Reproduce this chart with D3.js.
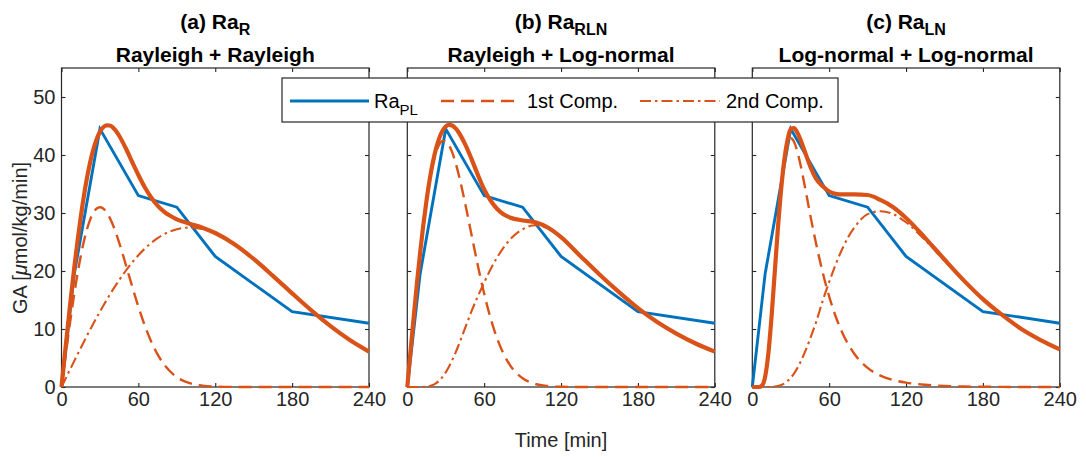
<!DOCTYPE html>
<html><head><meta charset="utf-8">
<script src="https://cdn.jsdelivr.net/npm/d3@7"></script>
<style>
body{margin:0;background:#fff}
svg{display:block}
text{font-family:"Liberation Sans",Arial,Helvetica,sans-serif}
</style>
</head><body>
<svg id="c" width="1086" height="457"></svg>
<script>
// ---- data ----
const T = [0,2.5,5,7.5,10,12.5,15,17.5,20,22.5,25,27.5,30,32.5,35,37.5,40,45,50,55,60,65,70,75,80,90,100,110,120,135,150,165,180,195,210,225,240];

const raPL_t = [0,10,30,60,90,120,180,240];
const raPL_v = [0,19.5,44.5,33,31,22.5,13,11];

const a_c1 = [0,4.25,8.40,12.39,16.12,19.53,22.55,25.15,27.28,28.94,30.10,30.78,31.00,30.79,30.19,29.25,28.02,24.89,21.24,17.45,13.84,10.59,7.84,5.62,3.89,1.70,0.66,0.23,0.07,0.01,0,0,0,0,0,0,0];
const a_c2 = [0,1.13,2.26,3.39,4.51,5.62,6.72,7.81,8.89,9.94,10.98,12.00,13.00,13.97,14.92,15.84,16.74,18.43,20.00,21.43,22.72,23.85,24.84,25.66,26.33,27.21,27.49,27.23,26.48,24.60,22.07,19.17,16.15,13.21,10.50,8.11,6.11];
const a_tot = [0,5.38,10.66,15.78,20.63,25.15,29.27,32.96,36.17,38.88,41.08,42.78,44.00,44.76,45.11,45.09,44.76,43.32,41.24,38.88,36.56,34.44,32.68,31.28,30.22,28.91,28.15,27.46,26.55,24.61,22.07,19.17,16.15,13.21,10.50,8.11,6.11];

const b_c1 = [0,6.13,12.10,17.81,23.12,27.91,32.11,35.63,38.45,40.51,41.84,42.44,42.38,41.71,40.49,38.80,36.73,31.81,26.38,21.01,16.08,11.86,8.43,5.78,3.83,1.51,0.52,0.16,0.04,0,0,0,0,0,0,0,0];
const b_c2 = [0,0,0,0,0,0.02,0.06,0.16,0.35,0.66,1.11,1.73,2.52,3.48,4.59,5.84,7.20,10.1,13.0,15.6,18.0,20.3,22.3,24.0,25.4,27.2,27.9,27.3,25.8,22.6,19.4,16.4,13.6,11.2,9.2,7.5,6.1];
const b_tot = [0,6.13,12.10,17.81,23.12,27.93,32.17,35.79,38.80,41.17,42.95,44.17,44.90,45.19,45.08,44.64,43.93,41.91,39.38,36.61,34.08,32.16,30.73,29.78,29.23,28.71,28.42,27.46,25.84,22.6,19.4,16.4,13.6,11.2,9.2,7.5,6.1];

const c_c1 = [0,0,0,0.24,1.76,5.71,12.04,19.66,27.24,33.73,38.56,41.57,42.9,42.33,40.71,38.44,35.75,29.92,24.5,19.7,15.6,12.2,9.5,7.3,5.6,3.3,1.95,1.2,0.75,0.38,0.18,0.09,0.05,0.02,0,0,0];
const c_c2 = [0,0,0,0,0,0,0.02,0.06,0.16,0.33,0.61,1.02,1.59,2.31,3.21,4.26,5.47,8.24,11.33,14.9,18.1,21.1,23.7,25.9,27.6,29.8,30.3,29.8,28.4,25.3,21.8,18.3,15.1,12.4,10.0,8.1,6.5];
const c_tot = [0,0,0,0.24,1.76,5.71,12.06,19.72,27.40,34.06,39.17,42.59,44.49,44.64,43.92,42.70,41.22,38.16,35.83,34.6,33.7,33.3,33.2,33.2,33.2,33.1,32.25,31.0,29.15,25.68,21.98,18.39,15.15,12.42,10.0,8.1,6.5];

const xTicks = [0,60,120,180,240];
const yTicks = [0,10,20,30,40,50];
const titles = ["(a) Ra","(b) Ra","(c) Ra"];
const titleSubs = ["R","RLN","LN"];
const subtitles = ["Rayleigh + Rayleigh","Rayleigh + Log-normal","Log-normal + Log-normal"];
const legendLabels = ["Ra","1st Comp.","2nd Comp."];
const legendSub = "PL";

// ---- drawing ----
const BLUE="#0072BD", ORANGE="#D95319", AX="#262626";
const svg = d3.select("#c");
const lefts=[61.5,407.3,752.3], W=307.5, TOP=68, BOT=387;
const y = d3.scaleLinear().domain([0,55]).range([BOT,TOP]);
const series = [[a_c1,a_c2,a_tot],[b_c1,b_c2,b_tot],[c_c1,c_c2,c_tot]];

function styleAxis(g, labels){
  g.select(".domain").remove();
  g.selectAll(".tick line").attr("stroke",AX).attr("stroke-width",1.1);
  g.selectAll(".tick text").attr("fill",AX).attr("font-size",20)
    .attr("font-family","'Liberation Sans',Arial,sans-serif");
  if(!labels) g.selectAll(".tick text").remove();
}

lefts.forEach((L,i)=>{
  const x = d3.scaleLinear().domain([0,240]).range([L,L+W]);
  const g = svg.append("g");
  g.append("rect").attr("x",L).attr("y",TOP).attr("width",W).attr("height",BOT-TOP)
    .attr("fill","#fff").attr("stroke",AX).attr("stroke-width",1.2);
  g.append("g").attr("transform",`translate(0,${BOT})`)
    .call(d3.axisBottom(x).tickValues(xTicks).tickSizeInner(-4).tickSizeOuter(0).tickPadding(5))
    .call(s=>styleAxis(s,true));
  g.append("g").attr("transform",`translate(0,${TOP})`)
    .call(d3.axisTop(x).tickValues(xTicks).tickSizeInner(-4).tickSizeOuter(0))
    .call(s=>styleAxis(s,false));
  g.append("g").attr("transform",`translate(${L},0)`)
    .call(d3.axisLeft(y).tickValues(yTicks).tickSizeInner(-4).tickSizeOuter(0).tickPadding(6))
    .call(s=>styleAxis(s,i===0));
  g.append("g").attr("transform",`translate(${L+W},0)`)
    .call(d3.axisRight(y).tickValues(yTicks).tickSizeInner(-4).tickSizeOuter(0))
    .call(s=>styleAxis(s,false));

  const lineT = d3.line().x((d,k)=>x(T[k])).y(d=>y(d)).curve(d3.curveMonotoneX);
  const linePL = d3.line().x((d,k)=>x(raPL_t[k])).y(d=>y(d));
  g.append("path").attr("d",linePL(raPL_v)).attr("fill","none").attr("stroke",BLUE).attr("stroke-width",2.9).attr("stroke-linejoin","miter");
  const [c1,c2,tot]=series[i];
  g.append("path").attr("d",lineT(c1)).attr("fill","none").attr("stroke",ORANGE).attr("stroke-width",2.4).attr("stroke-dasharray","13,7");
  g.append("path").attr("d",lineT(c2)).attr("fill","none").attr("stroke",ORANGE).attr("stroke-width",2.1).attr("stroke-dasharray","11,4,2.5,4");
  g.append("path").attr("d",lineT(tot)).attr("fill","none").attr("stroke",ORANGE).attr("stroke-width",4.2);

  const cx=L+W/2;
  const t1=svg.append("text").attr("x",cx).attr("y",28.5).attr("text-anchor","middle")
    .attr("font-size",21).attr("font-weight","bold").attr("fill","#000");
  t1.append("tspan").text(titles[i]);
  t1.append("tspan").attr("font-size",16).attr("dy",6).text(titleSubs[i]);
  svg.append("text").attr("x",cx).attr("y",62).attr("text-anchor","middle")
    .attr("font-size",21).attr("font-weight","bold").attr("fill","#000").text(subtitles[i]);
});

// legend
const lg = svg.append("g");
lg.append("rect").attr("x",282).attr("y",78).attr("width",556).attr("height",44)
  .attr("fill","#fff").attr("stroke",AX).attr("stroke-width",1.2);
const ly=101;
lg.append("line").attr("x1",290).attr("x2",369).attr("y1",ly).attr("y2",ly).attr("stroke",BLUE).attr("stroke-width",2.9);
lg.append("line").attr("x1",441).attr("x2",521).attr("y1",ly).attr("y2",ly).attr("stroke",ORANGE).attr("stroke-width",2.4).attr("stroke-dasharray","13,7");
lg.append("line").attr("x1",640).attr("x2",720).attr("y1",ly).attr("y2",ly).attr("stroke",ORANGE).attr("stroke-width",2.1).attr("stroke-dasharray","11,4,2.5,4");
const l1=lg.append("text").attr("x",374).attr("y",108).attr("font-size",20).attr("fill","#000");
l1.append("tspan").text(legendLabels[0]);
l1.append("tspan").attr("font-size",15).attr("dy",7).text(legendSub);
lg.append("text").attr("x",527).attr("y",108).attr("font-size",20).attr("fill","#000").text(legendLabels[1]);
lg.append("text").attr("x",726).attr("y",108).attr("font-size",20).attr("fill","#000").text(legendLabels[2]);

// axis labels
const yl=svg.append("text").attr("transform","translate(27,238) rotate(-90)").attr("text-anchor","middle")
  .attr("font-size",20).attr("fill",AX);
yl.append("tspan").text("GA [");
yl.append("tspan").attr("font-style","italic").text("\u03bc");
yl.append("tspan").text("mol/kg/min]");
svg.append("text").attr("x",561).attr("y",447).attr("text-anchor","middle")
  .attr("font-size",20).attr("fill",AX).text("Time [min]");
</script>
</body></html>
